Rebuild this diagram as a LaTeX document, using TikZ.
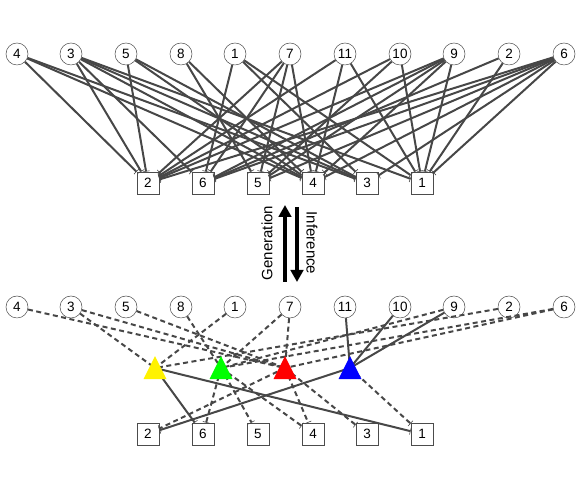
\documentclass[tikz,border=0pt]{standalone}
\usepackage{fontspec}
\setmainfont{Liberation Sans}
\usetikzlibrary{arrows.meta, shapes.geometric}

\tikzset{
  parentnode/.style={circle, draw=black!70, line width=0.5pt, fill=white, inner sep=0pt, minimum size=22pt, font=\fontsize{13.5}{14}\selectfont},
  childnode/.style={rectangle, draw=black!70, line width=0.7pt, fill=white, inner sep=0pt, minimum size=22pt, font=\fontsize{13.5}{14}\selectfont},
  latentnode/.style={isosceles triangle, isosceles triangle stretches, shape border rotate=90, inner sep=0pt, minimum height=23pt, minimum width=23pt},
  edge/.style={draw=black!72, line width=2pt},
  tipedge/.style={edge, -{Bar[width=7pt, line width=0.6pt]}},
  hidden/.style={dash pattern=on 5pt off 3.5pt},
  bigarrow/.style={line width=3.5pt, -{Triangle[length=12pt, width=12.5pt]}},
  sidelabel/.style={font=\fontsize{15}{16}\selectfont}
}

\begin{document}
\begin{tikzpicture}[x=1pt, y=1pt]
  \useasboundingbox (0,0) rectangle (581,486);

  % Top parents
  \node[parentnode] (p4) at (17,432) {4};
  \node[parentnode] (p3) at (71,432) {3};
  \node[parentnode] (p5) at (126,432) {5};
  \node[parentnode] (p8) at (181,432) {8};
  \node[parentnode] (p1) at (235,432) {1};
  \node[parentnode] (p7) at (290,432) {7};
  \node[parentnode] (p11) at (345,432) {11};
  \node[parentnode] (p10) at (400,432) {10};
  \node[parentnode] (p9) at (454,432) {9};
  \node[parentnode] (p2) at (509,432) {2};
  \node[parentnode] (p6) at (564,432) {6};

  % Top children
  \node[childnode] (c2) at (148,303) {2};
  \node[childnode] (c6) at (203,303) {6};
  \node[childnode] (c5) at (258,303) {5};
  \node[childnode] (c4) at (313,303) {4};
  \node[childnode] (c3) at (367,303) {3};
  \node[childnode] (c1) at (422,303) {1};

  % Top edges
  \draw[tipedge] (p4) -- (c2); \draw[tipedge] (p4) -- (c4); \draw[tipedge] (p4) -- (c3);
  \draw[tipedge] (p3) -- (c2); \draw[tipedge] (p3) -- (c6); \draw[tipedge] (p3) -- (c4);
  \draw[tipedge] (p3) -- (c3); \draw[tipedge] (p3) -- (c1);
  \draw[tipedge] (p5) -- (c2); \draw[tipedge] (p5) -- (c4); \draw[tipedge] (p5) -- (c3);
  \draw[tipedge] (p8) -- (c5); \draw[tipedge] (p8) -- (c4);
  \draw[tipedge] (p1) -- (c6); \draw[tipedge] (p1) -- (c3); \draw[tipedge] (p1) -- (c1);
  \draw[tipedge] (p7) -- (c2); \draw[tipedge] (p7) -- (c6); \draw[tipedge] (p7) -- (c5); \draw[tipedge] (p7) -- (c4);
  \draw[tipedge] (p11) -- (c2); \draw[tipedge] (p11) -- (c4); \draw[tipedge] (p11) -- (c1);
  \draw[tipedge] (p10) -- (c2); \draw[tipedge] (p10) -- (c5); \draw[tipedge] (p10) -- (c1);
  \draw[tipedge] (p9) -- (c2); \draw[tipedge] (p9) -- (c6); \draw[tipedge] (p9) -- (c5);
  \draw[tipedge] (p9) -- (c4); \draw[tipedge] (p9) -- (c1);
  \draw[tipedge] (p2) -- (c6); \draw[tipedge] (p2) -- (c1);
  \draw[tipedge] (p6) -- (c2); \draw[tipedge] (p6) -- (c6); \draw[tipedge] (p6) -- (c5);
  \draw[tipedge] (p6) -- (c4); \draw[tipedge] (p6) -- (c3); \draw[tipedge] (p6) -- (c1);

  % Generation and inference arrows
  \coordinate (genfoot) at (285,204);
  \coordinate (genhead) at (285,281);
  \coordinate (inffoot) at (297,279);
  \coordinate (infhead) at (297,204);
  \draw[bigarrow] (genfoot) -- (genhead);
  \draw[bigarrow] (inffoot) -- (infhead);
  \node[sidelabel, rotate=90] (genlabel) at (267,243) {Generation};
  \node[sidelabel, rotate=-90] (inflabel) at (312,243) {Inference};

  % Bottom parents
  \node[parentnode] (q4) at (17,179) {4};
  \node[parentnode] (q3) at (71,179) {3};
  \node[parentnode] (q5) at (126,179) {5};
  \node[parentnode] (q8) at (181,179) {8};
  \node[parentnode] (q1) at (235,179) {1};
  \node[parentnode] (q7) at (290,179) {7};
  \node[parentnode] (q11) at (345,179) {11};
  \node[parentnode] (q10) at (400,179) {10};
  \node[parentnode] (q9) at (454,179) {9};
  \node[parentnode] (q2) at (509,179) {2};
  \node[parentnode] (q6) at (564,179) {6};

  % Bottom children
  \node[childnode] (d2) at (148,52) {2};
  \node[childnode] (d6) at (203,52) {6};
  \node[childnode] (d5) at (258,52) {5};
  \node[childnode] (d4) at (313,52) {4};
  \node[childnode] (d3) at (367,52) {3};
  \node[childnode] (d1) at (422,52) {1};

  % Hubs the edges meet in, covered by the triangles
  \coordinate (ty) at (155,118);
  \coordinate (tg) at (221,118);
  \coordinate (tr) at (285,118);
  \coordinate (tb) at (350,118);

  % Dashed edges into triangles
  \draw[edge, hidden] (q3) -- (ty); \draw[edge, hidden] (q1) -- (ty); \draw[edge, hidden] (q2) -- (ty);
  \draw[edge, hidden] (q8) -- (tg); \draw[edge, hidden] (q7) -- (tg); \draw[edge, hidden] (q9) -- (tg);
  \draw[edge, hidden] (q6) -- (tg);
  \draw[edge, hidden] (q4) -- (tr); \draw[edge, hidden] (q3) -- (tr); \draw[edge, hidden] (q5) -- (tr);
  \draw[edge, hidden] (q7) -- (tr); \draw[edge, hidden] (q6) -- (tr);

  % Solid edges into blue
  \draw[edge] (q11) -- (tb); \draw[edge] (q10) -- (tb); \draw[edge] (q9) -- (tb);

  % Edges out of triangles
  \draw[tipedge] (ty) -- (d6); \draw[tipedge] (ty) -- (d1);
  \draw[tipedge, hidden] (tg) -- (d6); \draw[tipedge, hidden] (tg) -- (d5); \draw[tipedge, hidden] (tg) -- (d4);
  \draw[tipedge, hidden] (tr) -- (d2); \draw[tipedge, hidden] (tr) -- (d4); \draw[tipedge, hidden] (tr) -- (d3);
  \draw[tipedge] (tb) -- (d2); \draw[tipedge, hidden] (tb) -- (d1);

  % Latent triangles
  \node[latentnode, fill=yellow] (tyshape) at (155,114) {};
  \node[latentnode, fill=green] (tgshape) at (221,114) {};
  \node[latentnode, fill=red] (trshape) at (285,114) {};
  \node[latentnode, fill=blue] (tbshape) at (350,114) {};
\end{tikzpicture}
\end{document}
